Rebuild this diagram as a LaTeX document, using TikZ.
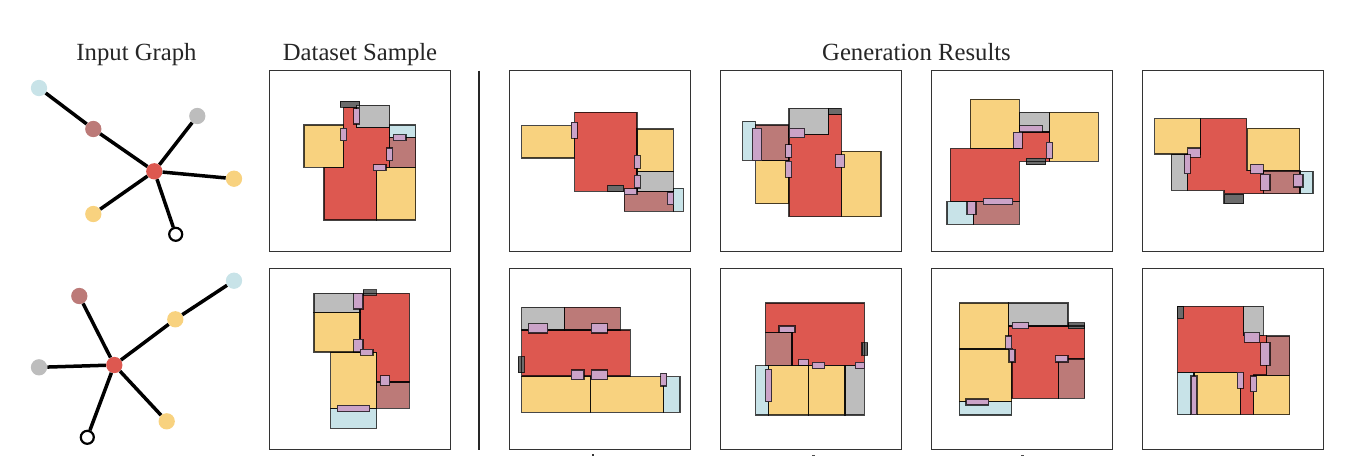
\documentclass[tikz,border=0pt]{standalone}
\usepackage{fontspec}
\setmainfont{Liberation Serif}
\definecolor{cred}{HTML}{DD5850}
\definecolor{cyel}{HTML}{F8D27F}
\definecolor{cbro}{HTML}{BC7A78}
\definecolor{cgra}{HTML}{BDBDBD}
\definecolor{cblu}{HTML}{C8E3E8}
\definecolor{cpin}{HTML}{CBA3C8}
\definecolor{cdrk}{HTML}{6B6B6B}
\tikzset{
  room/.style={draw=black,draw opacity=0.72,line width=1.15pt,line join=miter},
  doorbox/.style={draw=black,draw opacity=0.72,line width=1.1pt,fill=cpin},
  panelbox/.style={draw=black!80,line width=1.2pt,fill=white},
  title/.style={anchor=base,font=\fontsize{24.7}{27}\selectfont,text=black!85},
  gnode/.style={circle,inner sep=0pt,minimum size=16.3pt},
  gopen/.style={circle,inner sep=0pt,minimum size=13pt,draw=black,line width=2.2pt,fill=white},
  gedge/.style={draw=black,line width=3.5pt},
}
\newif\ifstrokepass
\newcommand{\rr}[3]{\ifstrokepass\path[room] (#2) rectangle (#3);\else\fill[#1] (#2) rectangle (#3);\fi}
\newcommand{\poly}[2]{\ifstrokepass\path[room] #2 -- cycle;\else\fill[#1] #2 -- cycle;\fi}
\newcommand{\dd}[2]{\ifstrokepass\path[doorbox] (#1) rectangle (#2);\fi}
\newcommand{\panel}[3]{\begin{scope}[shift={(#1,#2)},x=0.33333pt,y=-0.33333pt]\strokepassfalse #3\strokepasstrue #3\end{scope}}
\newcommand{\frameat}[2]{\draw[panelbox] (#1,#2) rectangle +(181.2,181.2);}
\begin{document}
\begin{tikzpicture}[x=1pt,y=-1pt]
\useasboundingbox (0,0) rectangle (1362,456);
% titles
\node[title] (t1) at (136.5,60.5) {Input Graph};
\node[title] (t2) at (360,60.5) {Dataset Sample};
\node[title] (t3) at (916.5,60.5) {Generation Results};
% graph 1
\node[gnode,fill=cblu] (a1) at (39,88) {};
\node[gnode,fill=cbro] (a2) at (93.3,129) {};
\node[gnode,fill=cgra] (a3) at (197.3,116) {};
\node[gnode,fill=cred] (a0) at (154.3,171.3) {};
\node[gnode,fill=cyel] (a4) at (234,178.7) {};
\node[gnode,fill=cyel] (a5) at (93.3,214) {};
\node[gopen] (a6) at (175.7,234.3) {};
\draw[gedge] (a1)--(a2);
\draw[gedge] (a2)--(a0);
\draw[gedge] (a3)--(a0);
\draw[gedge] (a4)--(a0);
\draw[gedge] (a5)--(a0);
\draw[gedge] (a6)--(a0);
% graph 2
\node[gnode,fill=cblu] (b1) at (234,280.7) {};
\node[gnode,fill=cyel] (b2) at (175.3,319.3) {};
\node[gnode,fill=cbro] (b3) at (79.3,296) {};
\node[gnode,fill=cred] (b0) at (114.3,365) {};
\node[gnode,fill=cgra] (b4) at (39,367.3) {};
\node[gnode,fill=cyel] (b5) at (166.7,421.3) {};
\node[gopen] (b6) at (87.3,437.3) {};
\draw[gedge] (b1)--(b2);
\draw[gedge] (b2)--(b0);
\draw[gedge] (b3)--(b0);
\draw[gedge] (b4)--(b0);
\draw[gedge] (b5)--(b0);
\draw[gedge] (b6)--(b0);
% separator
\coordinate (s1) at (479.3,70.5);
\coordinate (s2) at (479.3,449.5);
\draw[black!85,line width=2.2pt] (s1)--(s2);
% frames
\frameat{269.4}{70.5}\frameat{509.4}{70.5}\frameat{720.4}{70.5}\frameat{931.4}{70.5}\frameat{1142.4}{70.5}
\frameat{269.4}{268.4}\frameat{509.4}{268.4}\frameat{720.4}{268.4}\frameat{931.4}{268.4}\frameat{1142.4}{268.4}
% dataset 1
\panel{0}{30}{
\rr{cdrk}{1021,214}{1079,232}
\poly{cred}{(972,570)--(972,412)--(1031,412)--(1031,232)--(1070,232)--(1070,293)--(1169,293)--(1169,412)--(1130,412)--(1130,570)}
\rr{cgra}{1070,226}{1169,293}
\rr{cyel}{912,285}{1031,412}
\rr{cblu}{1169,285}{1247,323}
\rr{cbro}{1169,323}{1247,412}
\rr{cyel}{1130,412}{1247,570}
\dd{1061,236}{1079,282}
\dd{1022,295}{1040,332}
\dd{1180,314}{1218,332}
\dd{1160,354}{1178,392}
\dd{1120,404}{1158,422}
}
% dataset 2
\panel{0}{250}{
\poly{cred}{(1080,130)--(1228,130)--(1228,396)--(1130,396)--(1130,307)--(1080,307)}
\rr{cgra}{942,130}{1080,187}
\rr{cyel}{942,187}{1080,306}
\rr{cyel}{992,307}{1130,475}
\rr{cbro}{1130,396}{1228,475}
\rr{cblu}{992,475}{1130,535}
\rr{cdrk}{1090,119}{1129,136}
\dd{1061,130}{1089,177}
\dd{1061,268}{1089,306}
\dd{1081,298}{1119,316}
\dd{1141,377}{1169,406}
\dd{1012,466}{1109,485}
}
% gen row 1, columns 1-2
\panel{500}{60}{
\rr{cyel}{65,197}{223,294}
\rr{cred}{224,157}{411,394}
\rr{cyel}{411,207}{520,335}
\rr{cgra}{411,335}{520,394}
\rr{cbro}{373,394}{520,454}
\rr{cblu}{521,385}{550,454}
\rr{cdrk}{323,376}{371,394}
\dd{214,187}{232,235}
\dd{403,286}{421,325}
\dd{403,346}{421,384}
\dd{373,386}{411,404}
\dd{502,396}{521,434}
\rr{cblu}{728,184}{766,301}
\rr{cbro}{767,195}{866,302}
\rr{cgra}{867,145}{985,223}
\rr{cdrk}{985,145}{1024,164}
\poly{cred}{(867,223)--(985,223)--(985,164)--(1024,164)--(1024,470)--(867,470)}
\rr{cyel}{767,302}{866,431}
\rr{cyel}{1025,274}{1143,470}
\dd{757,205}{785,302}
\dd{867,205}{914,233}
\dd{857,254}{875,292}
\dd{857,304}{875,352}
\dd{1006,284}{1034,322}
}
% gen row 1, columns 3-4
\panel{920}{60}{
\rr{cyel}{151,118}{298,266}
\rr{cgra}{298,157}{388,216}
\rr{cyel}{388,157}{535,304}
\poly{cred}{(91,266)--(298,266)--(298,216)--(388,216)--(388,304)--(298,304)--(298,424)--(91,424)}
\rr{cblu}{81,425}{160,493}
\rr{cbro}{160,425}{298,493}
\rr{cdrk}{319,295}{377,314}
\dd{299,197}{367,215}
\dd{280,217}{307,265}
\dd{379,247}{398,295}
\dd{190,415}{278,434}
\dd{141,425}{168,463}
\rr{cyel}{704,176}{842,282}
\rr{cgra}{754,283}{803,391}
\poly{cred}{(842,176)--(980,176)--(980,332)--(1031,332)--(1031,401)--(912,401)--(912,391)--(803,391)--(803,282)--(842,282)}
\rr{cyel}{982,205}{1139,332}
\rr{cbro}{1031,333}{1140,401}
\rr{cblu}{1140,334}{1179,401}
\rr{cdrk}{912,403}{971,431}
\dd{803,264}{841,292}
\dd{793,284}{811,341}
\dd{992,313}{1030,341}
\dd{1022,343}{1050,391}
\dd{1121,343}{1149,381}
}
% gen row 2, columns 1-2
\panel{500}{256}{
\rr{cgra}{65,154}{193,222}
\rr{cbro}{193,154}{361,222}
\rr{cred}{65,222}{391,360}
\rr{cyel}{65,361}{272,469}
\rr{cyel}{272,362}{491,469}
\rr{cblu}{491,362}{540,469}
\rr{cdrk}{55,302}{73,350}
\dd{85,203}{143,231}
\dd{274,203}{322,231}
\dd{214,342}{252,371}
\dd{274,342}{322,371}
\dd{482,352}{500,390}
\poly{cred}{(797,141)--(1093,141)--(1093,328)--(876,328)--(876,230)--(797,230)}
\rr{cbro}{797,230}{876,328}
\rr{cblu}{767,329}{806,477}
\rr{cyel}{806,329}{925,477}
\rr{cyel}{925,329}{1035,477}
\rr{cgra}{1035,329}{1093,477}
\rr{cdrk}{1086,260}{1103,298}
\dd{837,210}{885,229}
\dd{896,310}{925,328}
\dd{937,319}{974,338}
\dd{1066,319}{1094,338}
\dd{797,340}{815,437}
}
% gen row 2, columns 3-4
\panel{920}{256}{
\rr{cyel}{118,141}{266,279}
\rr{cyel}{118,279}{275,437}
\rr{cblu}{118,437}{275,477}
\rr{cgra}{266,141}{444,210}
\poly{cred}{(266,210)--(494,210)--(494,308)--(415,308)--(415,427)--(276,427)--(276,279)--(266,279)}
\rr{cdrk}{445,200}{494,218}
\rr{cbro}{415,309}{494,427}
\dd{277,200}{325,218}
\dd{257,240}{275,278}
\dd{267,280}{285,318}
\dd{406,299}{444,318}
\dd{138,429}{206,447}
\poly{cred}{(773,151)--(971,151)--(971,239)--(1040,239)--(1040,357)--(1001,357)--(1001,476)--(961,476)--(961,349)--(773,349)}
\rr{cgra}{971,151}{1030,239}
\rr{cbro}{1040,240}{1109,358}
\rr{cblu}{773,349}{822,476}
\rr{cyel}{822,349}{961,476}
\rr{cyel}{1001,358}{1109,476}
\rr{cdrk}{773,151}{791,188}
\dd{973,230}{1019,259}
\dd{1022,260}{1050,328}
\dd{813,360}{831,476}
\dd{952,349}{970,397}
\dd{992,360}{1010,407}
}
% tops of the clipped marks along the lower edge
\fill[black!80] (592.3,454.3) rectangle (594,456);
\fill[black!70] (812,454.6) rectangle (815,456);
\fill[black!70] (1020.5,454.6) rectangle (1024,456);
\end{tikzpicture}
\end{document}
